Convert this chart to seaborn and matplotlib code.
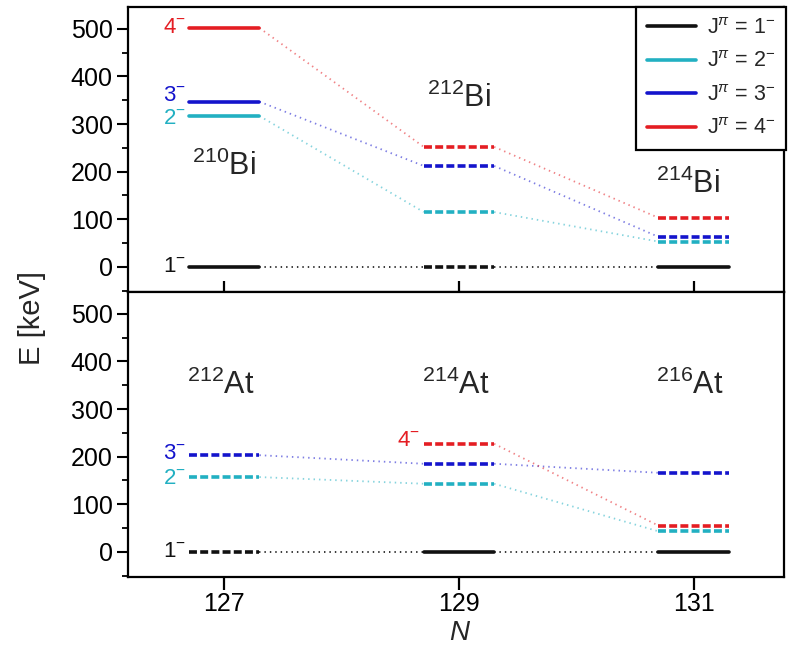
import matplotlib
matplotlib.use("Agg")
import matplotlib.pyplot as plt
from matplotlib.lines import Line2D
from matplotlib.ticker import MultipleLocator
import numpy as np
import pandas as pd
import seaborn as sns

# ---- data -------------------------------------------------------------
spins = ["1", "2", "3", "4"]
neutrons = [127, 129, 131]

# Bi isotopes (210Bi, 212Bi, 214Bi): level energies in keV for J = 1-,2-,3-,4-
bi_mass = [210, 212, 214]
bi_e_127 = [0, 317, 347, 502]
bi_e_129 = [0, 115, 212, 252]
bi_e_131 = [0, 53, 63, 103]
bi_meas_127 = [True, True, True, True]
bi_meas_129 = [False, False, False, False]
bi_meas_131 = [True, False, False, False]

# At isotopes (212At, 214At, 216At)
at_mass = [212, 214, 216]
at_e_127 = [0, 157, 203, np.nan]
at_e_129 = [0, 143, 185, 227]
at_e_131 = [0, 43, 166, 55]
at_meas_127 = [False, False, False, False]
at_meas_129 = [True, False, False, False]
at_meas_131 = [True, False, False, False]

# ---- style ------------------------------------------------------------
sns.set_theme(style="ticks")
plt.rcParams["font.family"] = ["Liberation Sans", "DejaVu Sans"]
plt.rcParams["mathtext.fontset"] = "custom"
plt.rcParams["mathtext.rm"] = "Liberation Sans"
plt.rcParams["mathtext.it"] = "Liberation Sans:italic"
plt.rcParams["mathtext.bf"] = "Liberation Sans:bold"

palette = {"1": "#111111", "2": "#22b0c2", "3": "#1414cc", "4": "#e41d23"}
half_w = 0.3
level_lw = 2.6


def long_tables(energies, measured):
    """Build level-segment and connector tables from per-isotope lists."""
    lv_rows, cn_rows = [], []
    seg = 0
    for n, e_list, m_list in zip(neutrons, energies, measured):
        for j, e, m in zip(spins, e_list, m_list):
            if np.isnan(e):
                continue
            kind = "measured" if m else "calc"
            for x in (n - half_w, n + half_w):
                lv_rows.append(dict(x=x, E=e, J=j, kind=kind, seg=seg))
            seg += 1
    seg = 0
    for i in range(len(neutrons) - 1):
        for k, j in enumerate(spins):
            e0, e1 = energies[i][k], energies[i + 1][k]
            if np.isnan(e0) or np.isnan(e1):
                continue
            cn_rows.append(dict(x=neutrons[i] + half_w, E=e0, J=j, seg=seg))
            cn_rows.append(dict(x=neutrons[i + 1] - half_w, E=e1, J=j, seg=seg))
            seg += 1
    return pd.DataFrame(lv_rows), pd.DataFrame(cn_rows)


def draw_panel(ax, energies, measured):
    levels, links = long_tables(energies, measured)
    for j in spins:
        sub = links[links.J == j]
        if sub.empty:
            continue
        sns.lineplot(data=sub, x="x", y="E", units="seg", estimator=None,
                     color=palette[j], linewidth=1.3, dashes=False,
                     linestyle=(0, (0.8, 2.2)), alpha=0.55 if j != "1" else 0.9,
                     legend=False, ax=ax, sort=False)
    sns.lineplot(data=levels, x="x", y="E", hue="J", style="kind",
                 units="seg", estimator=None, palette=palette,
                 dashes={"measured": "", "calc": (2.2, 0.9)},
                 linewidth=level_lw, legend=False, ax=ax, sort=False)


fig = plt.figure(figsize=(7.93, 6.45), dpi=100)
ax_top = fig.add_axes([128 / 793, 1 - 292 / 645, 656 / 793, 285 / 645])
ax_bot = fig.add_axes([128 / 793, 1 - 577 / 645, 656 / 793, 285 / 645])

draw_panel(ax_top, [bi_e_127, bi_e_129, bi_e_131],
           [bi_meas_127, bi_meas_129, bi_meas_131])
draw_panel(ax_bot, [at_e_127, at_e_129, at_e_131],
           [at_meas_127, at_meas_129, at_meas_131])

for ax in (ax_top, ax_bot):
    ax.set_xlim(126.18, 131.77)
    ax.set_ylim(-53, 546)
    ax.yaxis.set_major_locator(MultipleLocator(100))
    ax.yaxis.set_minor_locator(MultipleLocator(50))
    ax.set_xticks(neutrons)
    ax.set_xlabel("")
    ax.set_ylabel("")
    for sp in ax.spines.values():
        sp.set_visible(True)
        sp.set_linewidth(1.6)
        sp.set_color("black")
    ax.tick_params(axis="y", which="major", direction="out", length=8,
                   width=1.5, labelsize=18, pad=3, colors="black")
    ax.tick_params(axis="y", which="minor", direction="out", length=4.5,
                   width=1.3, colors="black")
    ax.set_facecolor("white")

ax_top.tick_params(axis="x", which="major", direction="inout", length=16,
                   width=1.6, labelbottom=False, colors="black")
ax_bot.tick_params(axis="x", which="major", direction="out", length=9,
                   width=1.6, labelsize=18, pad=2, colors="black")
ax_top.tick_params(axis="x", which="minor", bottom=False)
ax_bot.tick_params(axis="x", which="minor", bottom=False)

# nucleus names
nuc_fs = 22
ax_top.text(127, 212, r"$^{%d}$Bi" % bi_mass[0], ha="center", va="center", fontsize=nuc_fs)
ax_top.text(129, 353, r"$^{%d}$Bi" % bi_mass[1], ha="center", va="center", fontsize=nuc_fs)
ax_top.text(130.95, 174, r"$^{%d}$Bi" % bi_mass[2], ha="center", va="center", fontsize=nuc_fs)
for n, a in zip(neutrons, at_mass):
    ax_bot.text(n - 0.03, 349, r"$^{%d}$At" % a, ha="center", va="center", fontsize=nuc_fs)

# spin-parity tags next to levels
tag_fs = 16
def tag(ax, n, e, j, dy=0):
    ax.text(n - half_w - 0.03, e + dy, j + r"$^{-}$", color=palette[j],
            ha="right", va="center", fontsize=tag_fs)

tag(ax_top, 127, bi_e_127[3], "4")
tag(ax_top, 127, bi_e_127[2], "3", dy=12)
tag(ax_top, 127, bi_e_127[1], "2", dy=-6)
tag(ax_top, 127, bi_e_127[0], "1")
tag(ax_bot, 127, at_e_127[2], "3", dy=4)
tag(ax_bot, 127, at_e_127[1], "2", dy=-4)
tag(ax_bot, 127, at_e_127[0], "1")
tag(ax_bot, 129, at_e_129[3], "4", dy=6)

# legend
handles = [Line2D([], [], color=palette[j], lw=level_lw) for j in spins]
labels = [r"J$^{\pi}$ = %s$^{-}$" % j for j in spins]
leg = ax_top.legend(handles, labels, loc="upper right", bbox_to_anchor=(1.003, 1.0),
                    borderaxespad=0, fontsize=15.5, handlelength=2.3,
                    handletextpad=0.5, labelspacing=0.58, borderpad=0.5,
                    frameon=True, fancybox=False, framealpha=1)
leg.get_frame().set_edgecolor("black")
leg.get_frame().set_linewidth(1.6)

fig.text(32 / 793, 1 - 318 / 645, "E [keV]", rotation=90, ha="center",
         va="center", fontsize=21)
fig.text(459 / 793, 1 - 633 / 645, "N", style="italic", ha="center",
         va="center", fontsize=20)

fig.savefig("out.png", dpi=100, facecolor="white")
